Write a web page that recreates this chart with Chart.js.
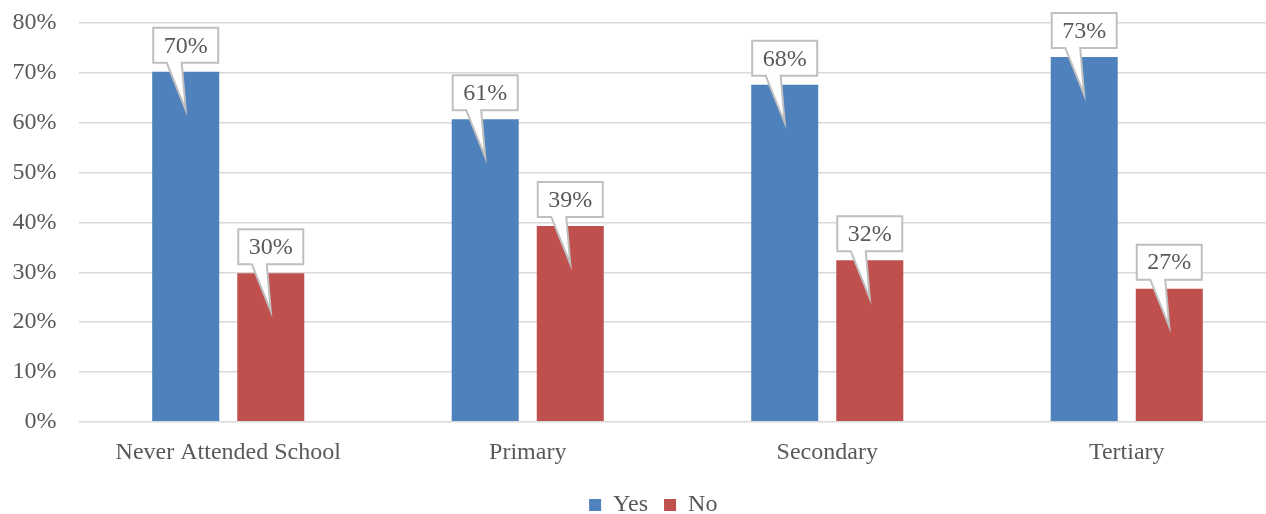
<!DOCTYPE html>
<html lang="en">
<head>
  <meta charset="UTF-8">
  <title>Yes / No by education level</title>
  <script src="https://cdn.jsdelivr.net/npm/chart.js"></script>
  <style>
    html, body { margin: 0; padding: 0; background: #fff; overflow: hidden; }
    .wrap { width: 1266px; height: 514px; overflow: hidden; }
  </style>
</head>
<body>
  <div class="wrap">
    <canvas id="myChart" width="1306" height="514"></canvas>
  </div>

  <script>
    // dados
    const categories = ['Never Attended School', 'Primary', 'Secondary', 'Tertiary'];
    const yesValues = [70.2, 60.7, 67.6, 73.2];
    const noValues = [29.8, 39.3, 32.4, 26.7];
    const yTicks = [0, 10, 20, 30, 40, 50, 60, 70, 80];

    const FONT = '"Liberation Serif", serif';
    const GREY = '#595959';

    // callout boxes above each bar
    const calloutPlugin = {
      id: 'callouts',
      afterLayout(chart) {
        // legend is centred a bit to the right, like the original
        chart.legend.left = 30;
      },
      afterDatasetsDraw(chart) {
        const ctx = chart.ctx;
        ctx.save();
        chart.data.datasets.forEach((ds, i) => {
          const meta = chart.getDatasetMeta(i);
          meta.data.forEach((bar, j) => {
            const x = bar.x, top = bar.y;
            const w = 65, h = 35;
            const bx = x - w / 2, by = top - 9 - h;
            ctx.beginPath();
            ctx.moveTo(bx, by);
            ctx.lineTo(bx + w, by);
            ctx.lineTo(bx + w, by + h);
            ctx.lineTo(x - 4, by + h);
            ctx.lineTo(x, top + 38);
            ctx.lineTo(x - 19, by + h);
            ctx.lineTo(bx, by + h);
            ctx.closePath();
            ctx.fillStyle = '#fff';
            ctx.fill();
            ctx.lineWidth = 2;
            ctx.strokeStyle = '#BFBFBF';
            ctx.stroke();
            ctx.fillStyle = GREY;
            ctx.font = '24px ' + FONT;
            ctx.textAlign = 'center';
            ctx.textBaseline = 'middle';
            ctx.fillText(Math.round(ds.data[j]) + '%', x, by + h / 2 + 1);
          });
        });
        ctx.restore();
      }
    };

    const ctx = document.getElementById('myChart').getContext('2d');
    const myChart = new Chart(ctx, {
      type: 'bar',
      data: {
        labels: categories,
        datasets: [
          { label: 'Yes', data: yesValues, backgroundColor: '#4F81BD',
            categoryPercentage: 0.568, barPercentage: 0.788 },
          { label: 'No', data: noValues, backgroundColor: '#C0504D',
            categoryPercentage: 0.568, barPercentage: 0.788 }
        ]
      },
      options: {
        responsive: false,
        animation: false,
        devicePixelRatio: 1,
        layout: { padding: { top: 23, right: 29.5, left: 0, bottom: -13 } },
        scales: {
          x: {
            grid: { display: false },
            border: { display: false },
            ticks: { color: GREY, font: { family: FONT, size: 24 }, padding: 8.5 },
            afterFit(s) { s.height = 55.2; s.paddingLeft = 0; s.paddingRight = 0; }
          },
          y: {
            min: 0,
            max: 80,
            afterBuildTicks(s) { s.ticks = yTicks.map(v => ({ value: v })); },
            grid: { color: '#D9D9D9', lineWidth: 1.5, drawTicks: false },
            border: { display: false },
            ticks: {
              color: GREY,
              font: { family: FONT, size: 24 },
              padding: 22,
              callback: v => v + '%'
            },
            afterFit(s) { s.width = 78.5; s.paddingTop = 0; s.paddingBottom = 0; }
          }
        },
        plugins: {
          legend: {
            position: 'bottom',
            labels: {
              color: GREY,
              font: { family: FONT, size: 24 },
              boxWidth: 12,
              boxHeight: 12,
              padding: 16
            }
          },
          tooltip: { enabled: false }
        }
      },
      plugins: [calloutPlugin]
    });
  </script>
</body>
</html>
